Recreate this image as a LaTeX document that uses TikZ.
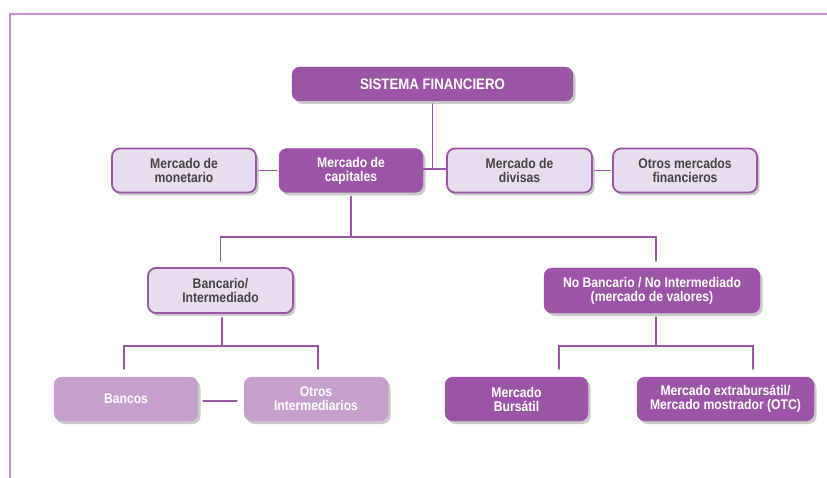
\documentclass[tikz,border=0pt]{standalone}
\usepackage{fontspec}
\setmainfont{Liberation Sans}[FakeStretch=0.87]
\usetikzlibrary{shadows}
\definecolor{dpur}{HTML}{9C55A6}
\definecolor{lpur}{HTML}{EADCEF}
\definecolor{mpur}{HTML}{C5A0CC}
\definecolor{frm}{HTML}{C78ED2}
\definecolor{txt}{HTML}{444444}
\tikzset{
  boxbase/.style={rounded corners=8pt, minimum height=44pt, inner sep=0pt,
    align=center, font=\fontsize{14}{14}\selectfont\bfseries,
    drop shadow={shadow xshift=2.5pt, shadow yshift=-3pt, opacity=0.35, fill=black!60}},
  darkbox/.style={boxbase, fill=dpur, draw=dpur, text=white},
  lightbox/.style={boxbase, fill=lpur, draw=dpur, line width=1.8pt, text=txt},
  midbox/.style={boxbase, fill=mpur, draw=mpur, text=white},
  conn/.style={draw=dpur, line width=1.9pt, line cap=round},
  frame/.style={draw=frm, line width=2pt}
}
\begin{document}
\begin{tikzpicture}[x=1pt,y=-1pt]
\useasboundingbox (0,0) rectangle (827,478);
\draw[frame] (10,478) -- (10,14) -- (827,14);

\node[darkbox, minimum width=281pt, minimum height=34pt, font=\fontsize{15.2}{16}\selectfont\bfseries] (sf) at (432.5,84) {SISTEMA FINANCIERO};
\node[lightbox, minimum width=144pt] (mon) at (184,170.5) {Mercado de\\monetario};
\node[darkbox, minimum width=144pt] (cap) at (351,170.5) {Mercado de\\capitales};
\node[lightbox, minimum width=145pt] (div) at (519.5,170.5) {Mercado de\\divisas};
\node[lightbox, minimum width=144pt] (otm) at (685,170.5) {Otros mercados\\financieros};

\node[lightbox, minimum width=145pt, minimum height=45pt] (banc) at (220.5,290.5) {Bancario/\\Intermediado};
\node[darkbox, minimum width=216pt, minimum height=45pt] (nob) at (652,290.5) {No Bancario / No Intermediado\\(mercado de valores)};

\node[midbox, minimum width=144pt] (bcos) at (126,399) {Bancos};
\node[midbox, minimum width=144pt] (oint) at (316,399) {Otros\\Intermediarios};
\node[darkbox, minimum width=143pt] (burs) at (516.5,399) {Mercado\\Bursátil};
\node[darkbox, minimum width=177pt] (otc) at (725.5,399) {Mercado extrabursátil/\\Mercado mostrador (OTC)};

% top connectors
\coordinate (j0) at (432.5,169);
\draw[conn, shorten <=3pt] (sf.south) -- (j0);
\draw[conn] (cap.east |- j0) -- (div.west |- j0);
\draw[conn, shorten <=2pt, shorten >=2pt] (mon.east) -- (cap.west);
\draw[conn, shorten <=2pt, shorten >=2pt] (div.east) -- (otm.west);

% bracket 1
\coordinate (b1l) at (220.5,237);
\coordinate (b1r) at (656,237);
\coordinate (b1le) at (220.5,261);
\coordinate (b1re) at (656,261);
\draw[conn, shorten <=4pt] (cap.south) -- (cap.south |- b1l);
\draw[conn] (b1le) -- (b1l) -- (b1r) -- (b1re);

% bracket 2
\coordinate (b2c) at (222,346);
\coordinate (b2l) at (124,346);
\coordinate (b2r) at (318,346);
\coordinate (b2le) at (124,369);
\coordinate (b2re) at (318,369);
\draw[conn, shorten <=4pt] (banc.south -| b2c) -- (b2c);
\draw[conn] (b2le) -- (b2l) -- (b2r) -- (b2re);

% bracket 3
\coordinate (b3c) at (656,346);
\coordinate (b3l) at (559,346);
\coordinate (b3r) at (753,346);
\coordinate (b3le) at (559,369);
\coordinate (b3re) at (753,369);
\draw[conn, shorten <=4pt] (nob.south -| b3c) -- (b3c);
\draw[conn] (b3le) -- (b3l) -- (b3r) -- (b3re);

% bancos - otros
\draw[conn, shorten <=5pt, shorten >=7pt] ([yshift=-2pt]bcos.east) -- ([yshift=-2pt]oint.west);
\end{tikzpicture}
\end{document}
